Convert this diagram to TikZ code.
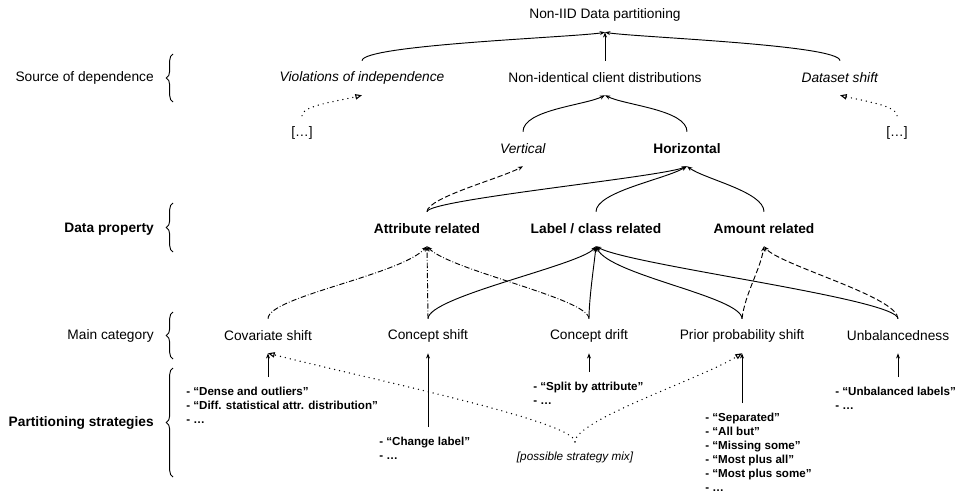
\documentclass[tikz,border=0pt]{standalone}
\usepackage{fontspec}
\setmainfont{Liberation Sans}
\usetikzlibrary{arrows.meta,positioning,calc,decorations.pathreplacing}

\tikzset{
  box/.style={minimum height=25.5pt, inner sep=0pt, font=\fontsize{10.3}{12}\selectfont},
  side/.style={anchor=east, inner sep=0pt, font=\fontsize{10.3}{12}\selectfont},
  strat/.style={anchor=north west, align=left, inner xsep=0pt, inner ysep=7.5pt, font=\fontsize{8.7}{10.4}\selectfont\bfseries},
  solidedge/.style={-{Stealth[length=4pt,width=3pt]}, line width=0.7pt},
  dashedge/.style={solidedge, dash pattern=on 4pt off 2pt},
  dashdotedge/.style={solidedge, dash pattern=on 4pt off 1.5pt on 0.6pt off 1.5pt},
  dottededge/.style={-{Triangle[open,length=5pt,width=4pt,line width=0.8pt]}, line width=1.1pt, line cap=round, dash pattern=on 0pt off 3.8pt},
  curly/.style={decorate, decoration={brace, amplitude=5pt}, line width=0.7pt}
}

\begin{document}
\begin{tikzpicture}[x=0.75pt, y=-0.75pt]
      \useasboundingbox (0,0) rectangle (957,492);

      % row labels and braces
      \node[side] (srclbl) at (154,78) {Source of dependence};
      \node[side] (proplbl) at (154,229) {\textbf{Data property}};
      \node[side] (catlbl) at (154,336) {Main category};
      \node[side] (stratlbl) at (154,423) {\textbf{Partitioning strategies}};
      \draw[curly] (173,102) -- (173,54);
      \draw[curly] (173,252) -- (173,203);
      \draw[curly] (173,359) -- (173,312);
      \draw[curly] (173,477) -- (173,368);

      \node[box] (root) at (605,15) {Non-IID Data partitioning};
      \node[box] (vio) at (362,78) {\textit{Violations of independence}};
      \node[box] (nonid) at (605,78) {Non-identical client distributions};
      \node[box] (dshift) at (840,78) {\textit{Dataset shift}};
      \node[box] (lmore) at (302,133) {[…]};
      \node[box] (rmore) at (897,133) {[…]};
      \node[box] (vert) at (523,149) {\textit{Vertical}};
      \node[box] (horiz) at (687,149) {\textbf{Horizontal}};

      \node[box] (attr) at (427,229) {\textbf{Attribute related}};
      \node[box] (label) at (596,229) {\textbf{Label / class related}};
      \node[box] (amount) at (764,229) {\textbf{Amount related}};

      \node[box] (cov) at (268,336) {Covariate shift};
      \node[box] (cshift) at (428,336) {Concept shift};
      \node[box] (cdrift) at (589,336) {Concept drift};
      \node[box] (prior) at (742,336) {Prior probability shift};
      \node[box] (unbal) at (898,336) {Unbalancedness};

      \draw[solidedge] (vio.north) .. controls +(0,-16) and +(-30,5) .. (root.south);
      \draw[solidedge] (nonid.north) -- (root.south);
      \draw[solidedge] (dshift.north) .. controls +(0,-16) and +(30,5) .. (root.south);
      \draw[dottededge] (lmore.north) .. controls +(0,-10) and +(-25,6) .. (vio.south);
      \draw[dottededge] (rmore.north) .. controls +(0,-10) and +(25,6) .. (dshift.south);

      \draw[solidedge] (vert.north) .. controls +(0,-22) and +(-20,10) .. (nonid.south);
      \draw[solidedge] (horiz.north) .. controls +(0,-22) and +(20,10) .. (nonid.south);

      \draw[dashedge] (attr.north) .. controls +(0,-14) and +(-22,12) .. (vert.south);
      \draw[solidedge] (attr.north) .. controls +(0,-12) and +(-27,11) .. (horiz.south);
      \draw[solidedge] (label.north) .. controls +(0,-20) and +(-22,13) .. (horiz.south);
      \draw[solidedge] (amount.north) .. controls +(0,-20) and +(18,13) .. (horiz.south);

      \draw[dashdotedge] (cov.north) .. controls +(0,-22) and +(-27,29) .. (attr.south);
      \draw[dashdotedge] (cshift.north) -- (attr.south);
      \draw[dashdotedge] (cdrift.north) .. controls +(0,-20) and +(23,24) .. (attr.south);
      \draw[solidedge] (cshift.north) .. controls +(0,-22) and +(-16,19) .. (label.south);
      \draw[solidedge] (cdrift.north) .. controls +(0,-20) and +(-2,19) .. (label.south);
      \draw[solidedge] (prior.north) .. controls +(0,-22) and +(14,29) .. (label.south);
      \draw[solidedge] (unbal.north) .. controls +(0,-20) and +(34,19) .. (label.south);
      \draw[dashedge] (prior.north) .. controls +(3,-25) and +(-4,24) .. (amount.south);
      \draw[dashedge] (unbal.north) .. controls +(0,-22) and +(16,19) .. (amount.south);

      % strategies
      \node[strat] (covlist) at (186,377) {- “Dense and outliers”\\- “Diff. statistical attr. distribution”\\- …};
      \node[strat] (cshiftlist) at (379,427) {- “Change label”\\- …};
      \node[strat] (cdriftlist) at (533,372) {- “Split by attribute”\\- …};
      \node[strat] (priorlist) at (705,403) {- “Separated”\\- “All but”\\- “Missing some”\\- “Most plus all”\\- “Most plus some”\\- …};
      \node[strat] (unballist) at (835,377) {- “Unbalanced labels”\\- …};
      \node[inner xsep=0pt, inner ysep=7pt, font=\fontsize{8.8}{10}\selectfont\itshape] (mix) at (575,457) {[possible strategy mix]};

      \draw[solidedge] (cov.south |- covlist.north) -- (cov.south);
      \draw[solidedge] (cshift.south |- cshiftlist.north) -- (cshift.south);
      \draw[solidedge] (cdrift.south |- cdriftlist.north) -- (cdrift.south);
      \draw[solidedge] (prior.south |- priorlist.north) -- (prior.south);
      \draw[solidedge] (unbal.south |- unballist.north) -- (unbal.south);
      \draw[dottededge] (mix.north) .. controls +(0,-20) and +(120,30) .. (cov.south);
      \draw[dottededge] (mix.north) .. controls +(0,-22) and +(-40,25) .. (prior.south);
\end{tikzpicture}
\end{document}
